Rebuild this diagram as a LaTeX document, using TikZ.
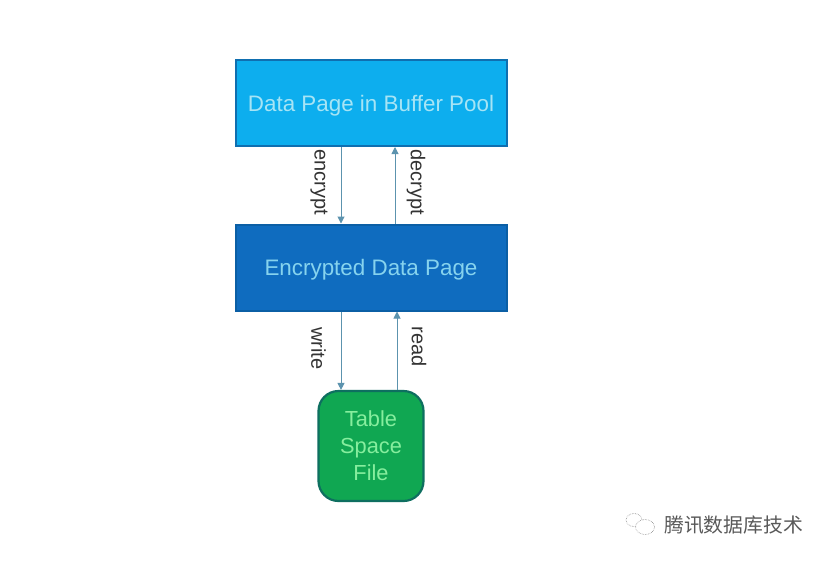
\documentclass[tikz,border=0pt]{standalone}
\usepackage{fontspec}
\setmainfont{Liberation Sans}
\newfontfamily\cjk{Noto Sans CJK SC}
\usetikzlibrary{arrows.meta}
\definecolor{poolfill}{HTML}{0DAEEE}
\definecolor{poolline}{HTML}{0F6FB0}
\definecolor{pooltext}{HTML}{A6E4F5}
\definecolor{encfill}{HTML}{0F6CBF}
\definecolor{encline}{HTML}{0B5FA5}
\definecolor{enctext}{HTML}{86D3EE}
\definecolor{filefill}{HTML}{10A752}
\definecolor{fileline}{HTML}{0E6F60}
\definecolor{filetext}{HTML}{86EE9E}
\definecolor{linkc}{HTML}{5C93AE}
\tikzset{
  box/.style={draw, line width=2pt, minimum width=271pt, minimum height=86pt, inner sep=0pt, text height=16pt, text depth=0pt, font=\fontsize{22.4}{26}\selectfont},
  poolbox/.style={box, fill=poolfill, draw=poolline, text=pooltext},
  encbox/.style={box, fill=encfill, draw=encline, text=enctext},
  filebox/.style={draw=fileline, fill=filefill, text=filetext, line width=2.2pt, rounded corners=20pt, minimum width=105pt, minimum height=110pt, inner sep=0pt, align=center, font=\fontsize{21.8}{27}\selectfont},
  link/.style={draw=linkc, line width=1pt, -{Triangle[length=7pt,width=7pt]}},
  lbl/.style={rotate=-90, text=black!80, font=\fontsize{20}{24}\selectfont, inner sep=0pt},
  wechat/.style={draw=black!45, line width=0.6pt, densely dotted, fill=white}
}
\begin{document}
\begin{tikzpicture}[x=1pt,y=-1pt]
\useasboundingbox (0,0) rectangle (830,560);
\fill[white] (0,0) rectangle (830,560);
\node[poolbox] (pool) at (371,103) {Data Page in Buffer Pool};
\node[encbox] (enc) at (371,267.5) {Encrypted Data Page};
\node[filebox] (file) at (371,446) {Table\\Space\\File};
\coordinate (xa) at (341,0);
\coordinate (xb) at (395,0);
\coordinate (xc) at (397,0);
\draw[link] (pool.south -| xa) -- (enc.north -| xa);
\draw[link] (enc.north -| xb) -- (pool.south -| xb);
\draw[link] (enc.south -| xa) -- (file.north -| xa);
\draw[link] (file.north -| xc) -- (enc.south -| xc);
\node[lbl] (l1) at (319,182.5) {encrypt};
\node[lbl] (l2) at (416,182.5) {decrypt};
\node[lbl] (l3) at (318.5,348.5) {write};
\node[lbl] (l4) at (419,346.5) {read};
\draw[wechat] (634,520) ellipse (8pt and 6.5pt);
\draw[wechat] (645,527) ellipse (9.5pt and 7.5pt);
\node[text=black!65, font=\cjk\fontsize{19.8}{24}\selectfont, inner sep=0pt] (wm) at (733.5,525) {腾讯数据库技术};
\end{tikzpicture}
\end{document}
